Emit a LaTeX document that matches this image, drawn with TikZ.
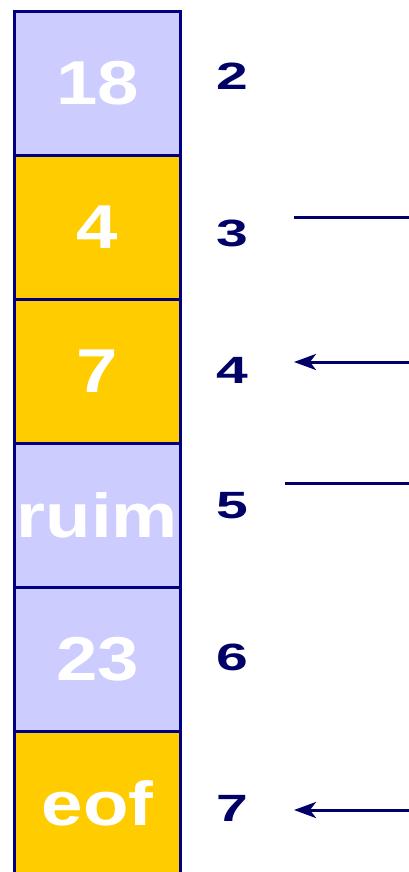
\documentclass[tikz,border=0pt]{standalone}
\usepackage{fontspec}
\setmainfont{Liberation Sans}
\usetikzlibrary{arrows.meta}
\definecolor{lav}{HTML}{CCCCFF}
\definecolor{gold}{HTML}{FFCC00}
\definecolor{navy}{HTML}{000080}
\definecolor{ink}{HTML}{000066}
\tikzset{
  cell/.style={draw=navy, line width=3pt, minimum width=166pt, minimum height=144pt,
    inner sep=0pt, anchor=north west, text=white,
    font=\fontsize{62}{62}\selectfont\bfseries},
  lbl/.style={text=ink, inner sep=0pt, font=\fontsize{38}{38}\selectfont\bfseries},
  link/.style={draw=ink, line width=3pt},
  ptr/.style={link, -{Stealth[length=22pt,width=16pt,inset=6pt]}}
}
\newcommand{\wide}[1]{\scalebox{1.2}[1]{#1}}
\newcommand{\widelbl}[1]{\scalebox{1.5}[1]{#1}}
\begin{document}
\begin{tikzpicture}[x=1pt,y=-1pt]
\useasboundingbox (0,0) rectangle (409,872);
\node[cell, fill=lav]  (c1) at (13,10)  {\wide{18}};
\node[cell, fill=gold] (c2) at (13,154) {\wide{4}};
\node[cell, fill=gold] (c3) at (13,298) {\wide{7}};
\node[cell, fill=lav]  (c4) at (13,442) {\wide{ruim}};
\node[cell, fill=lav]  (c5) at (13,586) {\wide{23}};
\node[cell, fill=gold] (c6) at (13,730) {\wide{eof}};
\node[lbl] (l2) at (232,76)  {\widelbl{2}};
\node[lbl] (l3) at (232,233) {\widelbl{3}};
\node[lbl] (l4) at (232,370) {\widelbl{4}};
\node[lbl] (l5) at (232,506) {\widelbl{5}};
\node[lbl] (l6) at (232,657) {\widelbl{6}};
\node[lbl] (l7) at (232,808) {\widelbl{7}};
\coordinate (s3) at (294,217);
\coordinate (e3) at (415,217);
\coordinate (t4) at (294,362);
\coordinate (e4) at (415,362);
\coordinate (s5) at (285,483);
\coordinate (e5) at (415,483);
\coordinate (t7) at (294,810);
\coordinate (e7) at (415,810);
\draw[link] (s3) -- (e3);
\draw[ptr] (e4) -- (t4);
\draw[link] (s5) -- (e5);
\draw[ptr] (e7) -- (t7);
\end{tikzpicture}
\end{document}
